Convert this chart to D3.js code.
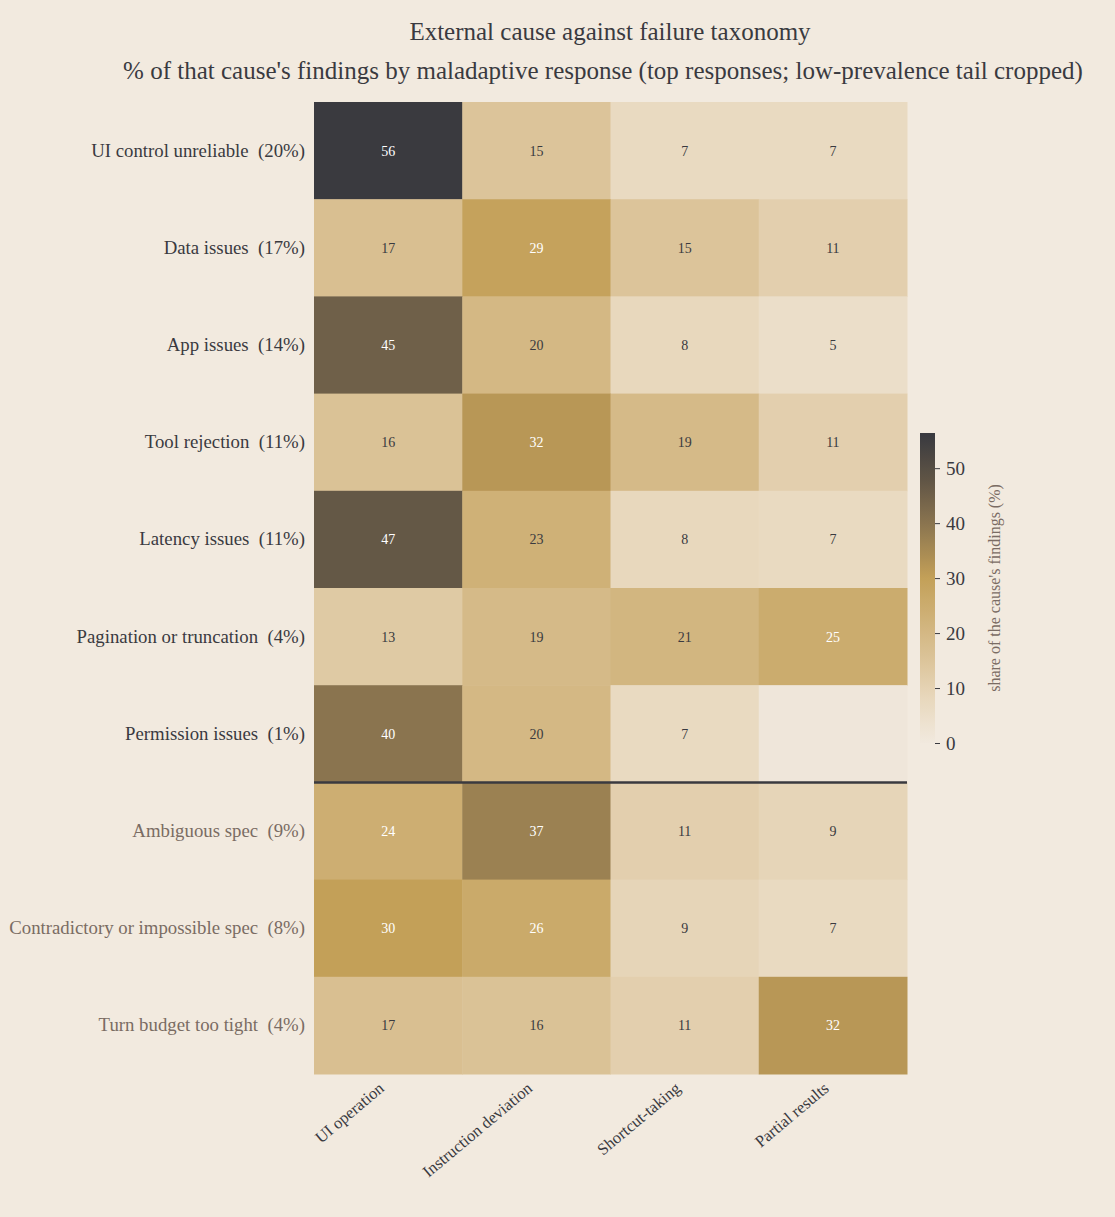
<!DOCTYPE html><html><head><meta charset="utf-8"><script src="https://cdn.jsdelivr.net/npm/d3@7"></script>
<style>body{margin:0;background:#f2eadf}</style></head><body><svg id="c" width="1115" height="1217"></svg><script>
const rows=["UI control unreliable  (20%)","Data issues  (17%)","App issues  (14%)","Tool rejection  (11%)","Latency issues  (11%)","Pagination or truncation  (4%)","Permission issues  (1%)","Ambiguous spec  (9%)","Contradictory or impossible spec  (8%)","Turn budget too tight  (4%)"];
const cols=["UI operation","Instruction deviation","Shortcut-taking","Partial results"];
const values=[[56,15,7,7],[17,29,15,11],[45,20,8,5],[16,32,19,11],[47,23,8,7],[13,19,21,25],[40,20,7,null],[24,37,11,9],[30,26,9,7],[17,16,11,32]];
const cbTicks=[0,10,20,30,40,50];
const F="'Liberation Serif', serif";
const svg=d3.select("#c");
svg.append("rect").attr("width",1115).attr("height",1217).attr("fill","#f2eadf");
const x=d3.scaleBand().domain(cols).range([314,907]);
const y=d3.scaleBand().domain(rows).range([102,1074]);
const color=d3.scaleLinear().domain([0,8,15,30,40,48,56]).range(["#f1e9de","#e8d8bd","#dcc49a","#c3a058","#8a744f","#5f5445","#3a3a3f"]);
const data=[];values.forEach((r,i)=>r.forEach((v,j)=>data.push({r:rows[i],c:cols[j],v})));
svg.selectAll("rect.cell").data(data).join("rect").attr("x",d=>x(d.c)).attr("y",d=>y(d.r)).attr("width",x.bandwidth()+0.5).attr("height",y.bandwidth()+0.5).attr("fill",d=>d.v==null?"#efe6da":color(d.v));
svg.selectAll("text.v").data(data.filter(d=>d.v!=null)).join("text").attr("x",d=>x(d.c)+x.bandwidth()/2).attr("y",d=>y(d.r)+y.bandwidth()/2+5).attr("text-anchor","middle").attr("font-family",F).attr("font-size",14).attr("fill",d=>d.v>=24?"#fff":"#3a3a3f").text(d=>d.v);
svg.append("line").attr("x1",314).attr("x2",907).attr("y1",y(rows[7])).attr("y2",y(rows[7])).attr("stroke","#3a3a3f").attr("stroke-width",2.5);
rows.forEach((r,i)=>svg.append("text").attr("x",305).attr("y",y(r)+y.bandwidth()/2+6).attr("text-anchor","end").attr("font-family",F).attr("font-size",18.8).attr("fill",i>=7?"#7a6c63":"#3a3a3f").style("white-space","pre").text(r));
cols.forEach(c=>svg.append("text").attr("transform",`translate(${x(c)+x.bandwidth()/2-3},1090) rotate(-40)`).attr("text-anchor","end").attr("font-family",F).attr("font-size",16.5).attr("fill","#3a3a3f").text(c));
svg.append("text").attr("x",610).attr("y",40).attr("text-anchor","middle").attr("font-family",F).attr("font-size",25).attr("fill","#3a3a3f").text("External cause against failure taxonomy");
svg.append("text").attr("x",603).attr("y",79).attr("text-anchor","middle").attr("font-family",F).attr("font-size",25).attr("fill","#3a3a3f").text("% of that cause's findings by maladaptive response (top responses; low-prevalence tail cropped)");
const cy=d3.scaleLinear().domain([0,56.4]).range([743,433]);
const defs=svg.append("defs");const g=defs.append("linearGradient").attr("id","g").attr("x1",0).attr("x2",0).attr("y1",1).attr("y2",0);
d3.range(0,57,2).forEach(v=>g.append("stop").attr("offset",v/56.4).attr("stop-color",color(v)));
svg.append("rect").attr("x",920).attr("y",433).attr("width",15).attr("height",310).attr("fill","url(#g)");
const ax=svg.append("g").attr("transform","translate(935,0)").call(d3.axisRight(cy).tickValues(cbTicks).tickSize(5).tickPadding(6));
ax.select(".domain").remove();ax.selectAll("line").attr("stroke","#3a3a3f");
ax.selectAll("text").attr("font-family",F).attr("font-size",19).attr("fill","#3a3a3f").attr("dy","0.35em");
svg.append("text").attr("transform","translate(1000,588) rotate(-90)").attr("text-anchor","middle").attr("font-family",F).attr("font-size",16).attr("fill","#7a6c63").text("share of the cause's findings (%)");
</script></body></html>
